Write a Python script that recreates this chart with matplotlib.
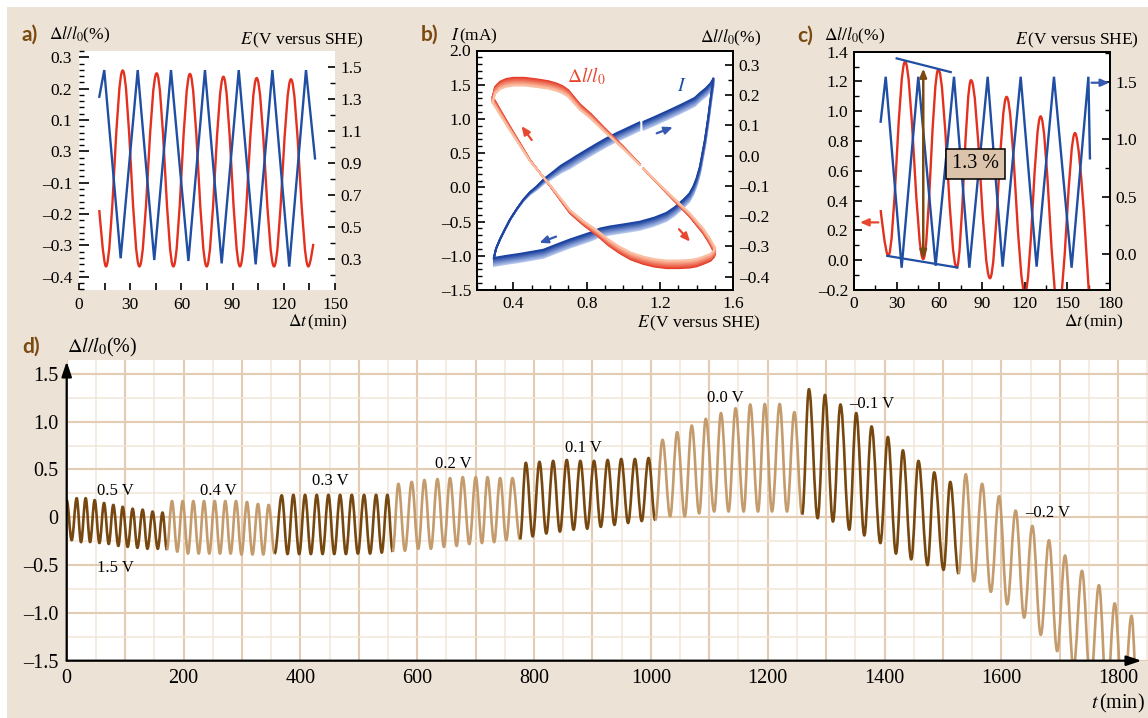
import matplotlib
matplotlib.use('Agg')
import matplotlib.pyplot as plt
import numpy as np
from matplotlib.colors import to_rgb
from matplotlib.patches import PathPatch, Rectangle
from matplotlib.path import Path
from matplotlib.ticker import FixedLocator, MultipleLocator, FuncFormatter

plt.rcParams['font.family'] = ['Liberation Serif', 'DejaVu Serif']
plt.rcParams['mathtext.fontset'] = 'stix'

W, H = 1148, 718
BEIGE = '#ece2d5'
BROWN = '#7b4a12'
RED = '#e3301f'
BLUE = '#1f4ea3'
D_DARK = '#774710'
D_LIGHT = '#c39b6c'

# --- a) strain and potential, 0.3-1.5 V cycling
a_t_strain = [11.9, 15.8, 25.6, 35.4, 45.5, 55.3, 65.0, 74.8, 84.6, 94.3, 104.1, 114.3, 124.2, 134.4, 137.3]
a_strain = [-0.187, -0.367, 0.258, -0.367, 0.249, -0.367, 0.247, -0.367, 0.238, -0.367, 0.234, -0.367, 0.230, -0.367, -0.295]
a_t_pot = [11.9, 14.8, 24.4, 34.4, 44.1, 53.9, 64.1, 73.8, 83.6, 93.6, 103.5, 113.3, 123.2, 133.0, 138.3]
a_pot = [1.313, 1.479, 0.305, 1.479, 0.294, 1.479, 0.288, 1.479, 0.273, 1.479, 0.267, 1.479, 0.253, 1.479, 0.928]

# --- b) current and strain against potential (forward scan split at 1.1 V)
b_red_fwd1_E = [0.287, 0.300, 0.327, 0.360, 0.400, 0.460, 0.527, 0.590, 0.636, 0.670, 0.700, 0.764, 0.820, 0.900, 1.000, 1.090]
b_red_fwd1_dl = [0.195, 0.228, 0.245, 0.254, 0.258, 0.258, 0.253, 0.247, 0.239, 0.230, 0.217, 0.170, 0.140, 0.090, 0.030, -0.028]
b_red_fwd2_E = [1.110, 1.200, 1.273, 1.360, 1.436, 1.470, 1.500]
b_red_fwd2_dl = [-0.042, -0.100, -0.146, -0.200, -0.257, -0.290, -0.325]
b_red_rev_E = [1.500, 1.495, 1.475, 1.436, 1.400, 1.364, 1.300, 1.236, 1.170, 1.109, 1.040, 0.982, 0.920,
               0.860, 0.780, 0.709, 0.600, 0.491, 0.382, 0.330, 0.300, 0.287]
b_red_rev_dl = [-0.325, -0.335, -0.348, -0.358, -0.366, -0.370, -0.372, -0.372, -0.367, -0.358, -0.343, -0.323,
                -0.297, -0.265, -0.228, -0.190, -0.100, -0.014, 0.096, 0.150, 0.182, 0.195]
b_blue_fwd1_E = [0.294, 0.305, 0.327, 0.355, 0.382, 0.420, 0.454, 0.490, 0.527, 0.570, 0.618, 0.660, 0.709,
                 0.750, 0.800, 0.850, 0.909, 0.960, 1.000, 1.087]
b_blue_fwd1_I = [-1.03, -0.90, -0.76, -0.61, -0.47, -0.31, -0.18, -0.07, 0.015, 0.13, 0.23, 0.32, 0.40,
                 0.47, 0.55, 0.63, 0.72, 0.79, 0.84, 0.95]
b_blue_fwd2_E = [1.110, 1.170, 1.236, 1.300, 1.346, 1.390, 1.418, 1.450, 1.475, 1.491]
b_blue_fwd2_I = [0.96, 1.03, 1.11, 1.19, 1.25, 1.31, 1.38, 1.45, 1.52, 1.59]
b_blue_rev_E = [1.491, 1.482, 1.472, 1.463, 1.445, 1.418, 1.400, 1.382, 1.360, 1.327, 1.280, 1.236, 1.170,
                1.091, 1.000, 0.927, 0.873, 0.820, 0.709, 0.640, 0.564, 0.500, 0.436, 0.360, 0.294]
b_blue_rev_I = [1.59, 1.42, 1.22, 1.03, 0.70, 0.31, 0.14, 0.015, -0.09, -0.18, -0.29, -0.37, -0.44,
                -0.50, -0.54, -0.57, -0.60, -0.66, -0.76, -0.83, -0.91, -0.94, -0.97, -1.00, -1.03]
n_cycles = 12

# --- c) strain and potential, -0.1-1.5 V cycling
c_t_strain = [18.75, 24.1, 35.9, 48.7, 59.3, 72.2, 82.3, 95.6, 107.3, 120.2, 131.2, 143.7, 155.4, 166.5]
c_strain = [0.337, 0.029, 1.333, 0.007, 1.281, -0.049, 1.209, -0.121, 1.097, -0.22, 0.966, -0.33, 0.854, -0.45]
c_t_pot = [18.75, 22.3, 33.5, 45.2, 57.4, 70.3, 81.1, 94.0, 104.5, 117.2, 128.4, 140.6, 153.0, 164.8, 165.9]
c_pot = [1.152, 1.543, -0.119, 1.543, -0.102, 1.543, -0.119, 1.543, -0.110, 1.543, -0.110, 1.543, -0.119, 1.543, 0.833]
c_env_t = [[30.0, 68.0], [23.4, 72.7]]
c_env_v = [[1.355, 1.263], [0.029, -0.049]]
c_amp_t = 48.7
c_amp = [0.007, 1.288]

# --- d) strain extrema over the whole run, lower vertex stepped down
d_t = [0, 8.5, 17.1, 24.5, 32.5, 40.0, 47.9, 56.0, 63.9, 72.0, 79.8, 88.4, 95.8, 104.4, 112.9, 121.0,
       130.0, 138.2, 147.0, 155.9, 164.0, 171.5,
       180.2, 189.3, 198.5, 207.6, 216.8, 225.9, 235.0, 244.1, 253.3, 262.4, 271.5, 280.6, 289.8, 299.2,
       308.6, 318.0, 327.4, 336.5, 345.7, 356.0,
       368.1, 378.0, 388.0, 398.0, 408.0, 418.0, 428.0, 438.0, 448.0, 458.0, 468.0, 478.0, 488.0, 498.5,
       509.0, 519.3, 529.6, 539.3, 549.0, 558.0,
       567.8, 579.0, 590.6, 601.8, 612.3, 623.5, 634.6, 645.8, 656.2, 667.5, 677.9, 689.2, 700.2, 710.9,
       720.3, 731.7, 742.0, 752.4, 763.0, 776.0,
       786.0, 797.7, 809.3, 821.0, 832.7, 844.3, 856.0, 867.7, 879.3, 891.0, 902.7, 914.3, 926.0, 937.7,
       949.3, 961.0, 972.7, 984.3, 996.0, 1007.4,
       1020.0, 1033.0, 1045.0, 1058.0, 1070.0, 1082.7, 1094.0, 1108.4, 1120.0, 1133.0, 1145.0, 1158.9,
       1170.0, 1183.4, 1195.0, 1207.4, 1220.5, 1233.0, 1245.6, 1259.0,
       1270.6, 1285.5, 1298.0, 1311.7, 1324.6, 1339.7, 1351.5, 1365.4, 1377.8, 1392.8, 1405.7, 1419.6,
       1431.4, 1445.7, 1458.0, 1473.6, 1485.0, 1501.0, 1512.5, 1526.7,
       1539.0, 1553.0, 1567.0, 1582.0, 1596.0, 1610.0, 1624.4, 1639.0, 1653.0, 1667.5, 1681.5, 1695.5,
       1709.0, 1723.5, 1738.0, 1752.5, 1767.0, 1780.5, 1794.0, 1808.5, 1822.8, 1834.0]
d_v = [0.18, -0.24, 0.20, -0.26, 0.20, -0.26, 0.18, -0.27, 0.15, -0.28, 0.13, -0.30, 0.11, -0.31, 0.09, -0.32,
       0.08, -0.33, 0.06, -0.33, 0.05, -0.34,
       0.17, -0.36, 0.17, -0.38, 0.17, -0.38, 0.17, -0.38, 0.17, -0.38, 0.17, -0.38, 0.17, -0.39,
       0.16, -0.39, 0.14, -0.39, 0.13, -0.38,
       0.23, -0.385, 0.235, -0.385, 0.235, -0.385, 0.235, -0.385, 0.235, -0.385, 0.235, -0.385, 0.235, -0.38,
       0.235, -0.38, 0.235, -0.37, 0.235, -0.36,
       0.35, -0.35, 0.37, -0.33, 0.39, -0.33, 0.40, -0.31, 0.41, -0.30, 0.42, -0.28, 0.42, -0.27,
       0.42, -0.26, 0.41, -0.24, 0.41, -0.23,
       0.57, -0.20, 0.58, -0.17, 0.59, -0.15, 0.60, -0.13, 0.59, -0.12, 0.59, -0.10, 0.60, -0.08,
       0.61, -0.06, 0.61, -0.04, 0.62, -0.03,
       0.81, 0.01, 0.89, 0.01, 0.96, 0.04, 1.03, 0.06, 1.09, 0.06, 1.14, 0.06,
       1.18, 0.06, 1.185, 0.06, 1.185, 0.06, 1.10, 0.03,
       1.34, -0.01, 1.28, -0.045, 1.18, -0.13, 1.09, -0.19, 0.95, -0.27, 0.84, -0.38,
       0.70, -0.44, 0.59, -0.50, 0.47, -0.55, 0.37, -0.59,
       0.45, -0.67, 0.35, -0.78, 0.22, -0.91, 0.07, -1.05, -0.09, -1.23, -0.24, -1.40,
       -0.40, -1.57, -0.56, -1.74, -0.71, -1.90, -0.90, -2.05, -1.03, -2.10]
d_switch_t = [0, 171.5, 356.0, 558.0, 776.0, 1007.4, 1259.0, 1526.7, 1834.0]
d_labels = ['0.5 V', '1.5 V', '0.4 V', '0.3 V', '0.2 V', '0.1 V', '0.0 V', '–0.1 V', '–0.2 V']
d_label_t = [83, 83, 259, 452, 661, 885, 1128, 1378, 1680]
d_label_v = [0.28, -0.53, 0.28, 0.38, 0.56, 0.72, 1.245, 1.18, 0.04]


def wave_path(t, v, k=0.364, open_start=False, open_end=False):
    # cubic segments with flat tangents at each extremum
    verts, codes = [(t[0], v[0])], [Path.MOVETO]
    n = len(t) - 1
    for i in range(n):
        t0, v0, t1, v1 = t[i], v[i], t[i + 1], v[i + 1]
        dt = t1 - t0
        c1 = (t0, v0) if (i == 0 and open_start) else (t0 + k * dt, v0)
        c2 = (t1, v1) if (i == n - 1 and open_end) else (t1 - k * dt, v1)
        verts += [c1, c2, (t1, v1)]
        codes += [Path.CURVE4] * 3
    return Path(verts, codes)


def draw_wave(ax, t, v, color, lw, **kw):
    ax.add_patch(PathPatch(wave_path(t, v, **kw), fill=False, ec=color, lw=lw,
                           joinstyle='round', capstyle='butt', zorder=3))


def mix(c0, c1, f):
    a, b = np.array(to_rgb(c0)), np.array(to_rgb(c1))
    return tuple(a + (b - a) * f)


def dash(s):
    return s.replace('-', '–')


def axes_px(fig, x0, y0, x1, y1):
    return fig.add_axes([x0 / W, 1 - y1 / H, (x1 - x0) / W, (y1 - y0) / H])


def ftext(fig, x, y, s, **kw):
    fig.text(x / W, 1 - y / H, s, **kw)


def panel_label(fig, x, y, s):
    ftext(fig, x, y, s, family='Lato', weight='bold', size=15, color=BROWN, ha='left', va='center')


fig = plt.figure(figsize=(W / 100, H / 100), dpi=100, facecolor='white')
fig.add_artist(Rectangle((7 / W, 0), 1, 1 - 7 / H, transform=fig.transFigure, fc=BEIGE, ec='none', zorder=-10))

TS = 12.5
tick_kw = dict(direction='in', width=1.2, labelsize=TS)
arrow = dict(arrowstyle='-|>,head_length=0.5,head_width=0.22', lw=1.6, shrinkA=0, shrinkB=0)

# ---------------- a)
ax_a = axes_px(fig, 79, 50.7, 335, 290)
ax_a.set_facecolor('white')
ax_a.set_xlim(0, 150)
ax_a.set_ylim(-0.442, 0.321)
ax_a2 = ax_a.twinx()
ax_a2.set_ylim(0.107, 1.6)
for ax in (ax_a, ax_a2):
    for s in ax.spines.values():
        s.set_visible(False)
draw_wave(ax_a, a_t_strain, a_strain, RED, 1.7, open_start=True, open_end=True)
ax_a2.plot(a_t_pot, a_pot, color=BLUE, lw=1.7, solid_joinstyle='miter')
ax_a.xaxis.set_major_locator(FixedLocator([0, 30, 60, 90, 120, 150]))
ax_a.xaxis.set_minor_locator(FixedLocator([15, 45, 75, 105, 135]))
ax_a.yaxis.set_major_locator(FixedLocator([0.3, 0.2, 0.1, 0.0, -0.1, -0.2, -0.3, -0.4]))
ax_a.set_yticklabels(['0.3', '0.2', '0.1', '0.3', '–0.1', '–0.2', '–0.3', '–0.4'])
ax_a.yaxis.set_minor_locator(MultipleLocator(0.02))
ax_a.tick_params(axis='x', which='both', length=5, pad=5, **tick_kw)
ax_a.tick_params(axis='y', which='major', length=7, pad=5, **tick_kw)
ax_a.tick_params(axis='y', which='minor', length=3.5, direction='in', width=1.0)
ax_a2.yaxis.set_major_locator(FixedLocator([0.1, 0.3, 0.5, 0.7, 0.9, 1.1, 1.3, 1.5]))
ax_a2.yaxis.set_major_formatter(FuncFormatter(lambda v, p: f'{v:.1f}'))
ax_a2.yaxis.set_minor_locator(FixedLocator([0.2, 0.4, 0.6, 0.8, 1.0, 1.2, 1.4]))
ax_a2.tick_params(axis='y', which='major', length=5, pad=4, **tick_kw)
ax_a2.tick_params(axis='y', which='minor', length=3.5, direction='in', width=1.0)

panel_label(fig, 21, 35, 'a)')
ftext(fig, 49, 35, r'$\Delta l/l_0$(%)', size=TS, ha='left', va='center')
ftext(fig, 364, 40, r'$E\,$(V versus SHE)', size=TS, ha='right', va='center')
ftext(fig, 347, 322, r'$\Delta t\,$(min)', size=TS, ha='right', va='center')

# ---------------- b)
ax_b = axes_px(fig, 476.7, 50.5, 733.3, 290)
ax_b.set_facecolor('white')
ax_b.set_xlim(0.2, 1.6)
ax_b.set_ylim(-1.5, 2.0)
ax_b2 = ax_b.twinx()
ax_b2.set_ylim(-0.444, 0.348)
for ax in (ax_b, ax_b2):
    for s in ax.spines.values():
        s.set_linewidth(1.3)

# later cycles sit lower; the drift builds up along the anodic sweep
for k in range(n_cycles - 1, -1, -1):
    col = mix('#1d44a0', '#b9c9ef', k / (n_cycles - 1))
    shift = -0.011 * k
    E1 = np.array(b_blue_fwd1_E)
    ramp = np.clip((E1 - 0.40) / 0.30, 0, 1)
    ax_b.plot(E1, np.array(b_blue_fwd1_I) + shift * ramp, color=col, lw=1.3, solid_joinstyle='round')
    for E, I in ((b_blue_fwd2_E, b_blue_fwd2_I), (b_blue_rev_E, b_blue_rev_I)):
        ax_b.plot(E, np.array(I) + shift, color=col, lw=1.3, solid_joinstyle='round')

center = -0.06
for k in range(n_cycles):
    col = mix('#e53a26', '#fbbfa2', k / (n_cycles - 1))
    scale = 1 - 0.0075 * k
    for E, dl in ((b_red_fwd1_E, b_red_fwd1_dl), (b_red_fwd2_E, b_red_fwd2_dl), (b_red_rev_E, b_red_rev_dl)):
        ax_b2.plot(E, center + (np.array(dl) - center) * scale, color=col, lw=1.3, solid_joinstyle='round')

ax_b2.annotate('', xy=(0.445, 0.098), xytext=(0.50, 0.052), arrowprops=dict(color='#e8472f', **arrow))
ax_b2.annotate('', xy=(1.364, -0.284), xytext=(1.304, -0.243), arrowprops=dict(color='#e8472f', **arrow))
ax_b2.annotate('', xy=(1.27, 0.88), xytext=(1.182, 0.79), xycoords=ax_b.transData, textcoords=ax_b.transData,
               arrowprops=dict(color='#3558b0', **arrow))
ax_b2.annotate('', xy=(0.542, -0.81), xytext=(0.633, -0.72), xycoords=ax_b.transData, textcoords=ax_b.transData,
               arrowprops=dict(color='#3558b0', **arrow))
ax_b.text(0.80, 1.62, r'$\Delta l/l_0$', color='#e8452c', size=14, ha='center', va='center')
ax_b.text(1.318, 1.48, r'$I$', color=BLUE, size=14, ha='center', va='center')

ax_b.xaxis.set_major_locator(FixedLocator([0.4, 0.8, 1.2, 1.6]))
ax_b.xaxis.set_minor_locator(MultipleLocator(0.1))
ax_b.yaxis.set_major_locator(MultipleLocator(0.5))
ax_b.yaxis.set_minor_locator(MultipleLocator(0.1))
ax_b.yaxis.set_major_formatter(FuncFormatter(lambda v, p: dash(f'{v:.1f}')))
ax_b.tick_params(which='major', length=6, pad=4, top=False, **tick_kw)
ax_b.tick_params(which='minor', length=3.5, direction='in', width=1.0, top=False)
ax_b2.yaxis.set_major_locator(MultipleLocator(0.1))
ax_b2.yaxis.set_minor_locator(MultipleLocator(0.05))
ax_b2.yaxis.set_major_formatter(FuncFormatter(lambda v, p: dash(f'{v:.1f}')))
ax_b2.tick_params(axis='y', which='major', length=6, pad=4, **tick_kw)
ax_b2.tick_params(axis='y', which='minor', length=3.5, direction='in', width=1.0)

panel_label(fig, 421, 35, 'b)')
ftext(fig, 451, 36, r'$I\,$(mA)', size=TS, ha='left', va='center')
ftext(fig, 761, 38, r'$\Delta l/l_0$(%)', size=TS, ha='right', va='center')
ftext(fig, 761, 323, r'$E\,$(V versus SHE)', size=TS, ha='right', va='center')

# ---------------- c)
ax_c = axes_px(fig, 854, 51.7, 1110, 290)
ax_c.set_facecolor('white')
ax_c.set_xlim(0, 180)
ax_c.set_ylim(-0.2, 1.4)
ax_c2 = ax_c.twinx()
ax_c2.set_ylim(-0.313, 1.761)
for ax in (ax_c, ax_c2):
    for s in ax.spines.values():
        s.set_linewidth(1.3)
draw_wave(ax_c, c_t_strain, c_strain, RED, 1.7, open_start=True, open_end=True)
ax_c2.plot(c_t_pot, c_pot, color=BLUE, lw=1.7, solid_joinstyle='miter', zorder=3)

# overlays live on the top axes but use the strain scale
strain = ax_c.transData
for et, ev in zip(c_env_t, c_env_v):
    ax_c2.plot(et, ev, color=BLUE, lw=1.6, zorder=4, transform=strain)
ax_c2.annotate('', xy=(c_amp_t, c_amp[1]), xytext=(c_amp_t, c_amp[0]), xycoords=strain, textcoords=strain,
               arrowprops=dict(arrowstyle='<|-|>,head_length=0.5,head_width=0.2', color=BROWN, lw=1.8,
                               shrinkA=0, shrinkB=0), zorder=5)
ax_c2.text(85.5, 0.647, '1.3 %', size=14.5, ha='center', va='center', zorder=6, transform=strain,
           bbox=dict(boxstyle='square,pad=0.28', fc='#dcc4ac', ec='black', lw=1.1))
ax_c2.annotate('', xy=(4.2, 0.254), xytext=(17.1, 0.254), xycoords=strain, textcoords=strain,
               arrowprops=dict(color='#e8472f', **arrow))
ax_c2.annotate('', xy=(179.5, 1.491), xytext=(167, 1.491), arrowprops=dict(color='#3558b0', **arrow))

ax_c.xaxis.set_major_locator(MultipleLocator(30))
ax_c.xaxis.set_minor_locator(MultipleLocator(15))
ax_c.yaxis.set_major_locator(MultipleLocator(0.2))
ax_c.yaxis.set_minor_locator(MultipleLocator(0.1))
ax_c.yaxis.set_major_formatter(FuncFormatter(lambda v, p: dash(f'{v:.1f}')))
ax_c.tick_params(which='major', length=6, pad=4, top=False, **tick_kw)
ax_c.tick_params(which='minor', length=3.5, direction='in', width=1.0, top=False)
ax_c2.yaxis.set_major_locator(MultipleLocator(0.5))
ax_c2.yaxis.set_minor_locator(MultipleLocator(0.25))
ax_c2.yaxis.set_major_formatter(FuncFormatter(lambda v, p: dash(f'{v:.1f}')))
ax_c2.tick_params(axis='y', which='major', length=6, pad=4, **tick_kw)
ax_c2.tick_params(axis='y', which='minor', length=3.5, direction='in', width=1.0)

panel_label(fig, 797, 36, 'c)')
ftext(fig, 824, 36, r'$\Delta l/l_0$(%)', size=TS, ha='left', va='center')
ftext(fig, 1139, 40, r'$E\,$(V versus SHE)', size=TS, ha='right', va='center')
ftext(fig, 1123, 322, r'$\Delta t\,$(min)', size=TS, ha='right', va='center')

# ---------------- d)
ax_d = axes_px(fig, 66.7, 360, 1148, 660.7)
ax_d.set_facecolor('white')
ax_d.set_xlim(0, 1851)
ax_d.set_ylim(-1.5, 1.645)
for s in ax_d.spines.values():
    s.set_visible(False)
ax_d.set_axisbelow(True)
ax_d.xaxis.set_major_locator(MultipleLocator(100))
ax_d.xaxis.set_minor_locator(MultipleLocator(50))
ax_d.xaxis.set_major_formatter(FuncFormatter(lambda v, p: f'{v:.0f}' if v % 200 == 0 else ''))
ax_d.yaxis.set_major_locator(MultipleLocator(0.5))
ax_d.yaxis.set_minor_locator(MultipleLocator(0.25))
ax_d.yaxis.set_major_formatter(FuncFormatter(lambda v, p: '0' if abs(v) < 1e-9 else dash(f'{v:.1f}')))
ax_d.grid(which='major', color='#e3ccb2', lw=1.5)
ax_d.grid(which='minor', color='#f1e5d8', lw=1.1)
ax_d.tick_params(which='both', length=0, labelsize=14.5)
ax_d.tick_params(axis='y', pad=6)
ax_d.tick_params(axis='x', pad=6)

t_arr, v_arr = np.array(d_t), np.array(d_v)
for i in range(len(d_switch_t) - 1):
    sel = (t_arr >= d_switch_t[i] - 1e-6) & (t_arr <= d_switch_t[i + 1] + 1e-6)
    color = D_DARK if i % 2 == 0 else D_LIGHT
    draw_wave(ax_d, t_arr[sel], v_arr[sel], color, 1.9)

for s, t, v in zip(d_labels, d_label_t, d_label_v):
    ax_d.text(t, v, s, size=12, ha='center', va='center', zorder=5)

axis_arrow = dict(arrowstyle='-|>,head_length=0.9,head_width=0.3', color='black', lw=1.6, shrinkA=0, shrinkB=0)
ax_d.annotate('', xy=(0, 1.63), xytext=(0, -1.5), arrowprops=axis_arrow, annotation_clip=False, zorder=6)
ax_d.annotate('', xy=(1840, -1.5), xytext=(0, -1.5), arrowprops=axis_arrow, annotation_clip=False, zorder=6)

panel_label(fig, 22, 347, 'd)')
ftext(fig, 67, 347, r'$\Delta l/l_0$(%)', size=14.5, ha='left', va='center')
ftext(fig, 1145, 703, r'$t\,$(min)', size=14.5, ha='right', va='center')

fig.savefig('out.png', dpi=100, facecolor=fig.get_facecolor())
